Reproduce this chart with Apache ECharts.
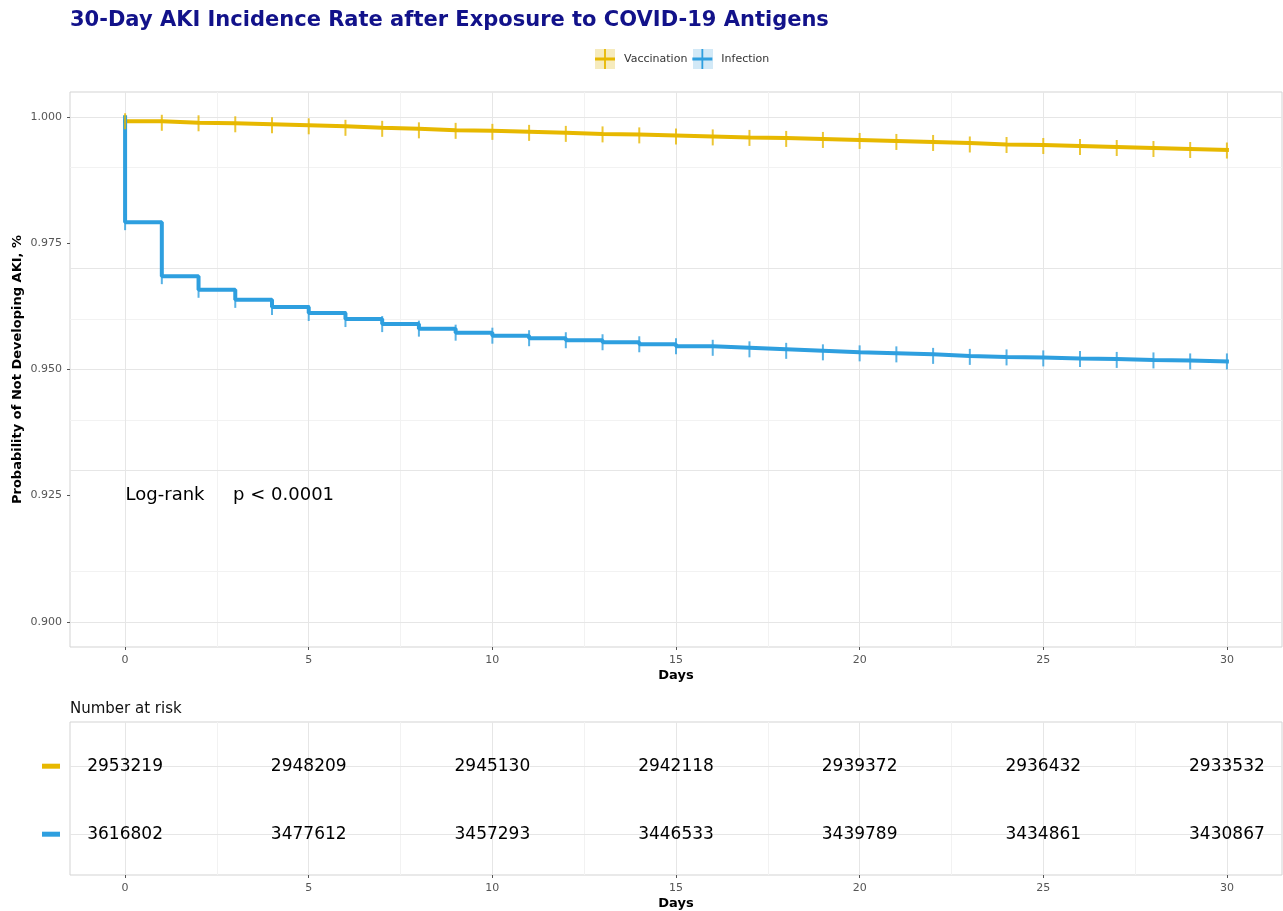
<!DOCTYPE html>
<html>
<head>
<meta charset="utf-8">
<script src="https://cdn.jsdelivr.net/npm/echarts@6/dist/echarts.min.js"></script>
<style>html,body{margin:0;padding:0;background:#fff;}#c{width:1283px;height:911px;}</style>
</head>
<body>
<div id="c"></div>
<script>
// ---- data ----
const days = [0,1,2,3,4,5,6,7,8,9,10,11,12,13,14,15,16,17,18,19,20,21,22,23,24,25,26,27,28,29,30];
const vaccSurv = [0.9992,0.9989,0.9988,0.9986,0.9984,0.9982,0.9979,0.9977,0.9974,0.9973,0.9971,0.9969,0.9967,0.9966,0.9964,0.9962,0.9960,0.9959,0.9957,0.9955,0.9953,0.9951,0.9949,0.9946,0.9945,0.9943,0.9941,0.9939,0.9937,0.9935,0.9934];
const infSurv = [0.9792,0.9685,0.9658,0.9638,0.9624,0.9612,0.9600,0.9590,0.9581,0.9573,0.9567,0.9562,0.9558,0.9554,0.9550,0.9546,0.9543,0.9540,0.9537,0.9534,0.9532,0.9530,0.9527,0.9525,0.9524,0.9522,0.9521,0.9519,0.9518,0.9516,0.9516];
const riskDays = [0,5,10,15,20,25,30];
const riskVacc = [2953219,2948209,2945130,2942118,2939372,2936432,2933532];
const riskInf = [3616802,3477612,3457293,3446533,3439789,3434861,3430867];
const xTicks = [0,5,10,15,20,25,30];
const xMinor = [2.5,7.5,12.5,17.5,22.5,27.5];
const yTicks = [0.900,0.925,0.950,0.975,1.000];
const yMinor = [0.9125,0.9375,0.9625,0.9875];
const seriesNames = ['Vaccination','Infection'];
const colors = ['#E7B800','#2E9FDF'];
const pvalText = 'Log-rank     p < 0.0001';
const pvalPos = [0, 0.925];

const FONT = 'DejaVu Sans';
const vaccLine = days.map((d,i)=>[d,vaccSurv[i]]);
const infLine = [[0,1.0]].concat(days.map((d,i)=>[d,infSurv[i]]));

const gridLines = (xa, ya, xs, ys, color, width) => ({
  type:'line', xAxisIndex:xa, yAxisIndex:ya, data:[], silent:true, z:1,
  markLine:{z:1, silent:true, symbol:['none','none'], label:{show:false}, animation:false,
    lineStyle:{color:color, width:width, type:'solid'},
    data: xs.map(v=>({xAxis:v})).concat(ys.map(v=>({yAxis:v})))}
});

const plusIcon = 'path://M0,8.5 L20,8.5 L20,11.5 L0,11.5 Z M9.1,0 L10.9,0 L10.9,20 L9.1,20 Z';

const xAxisCommon = (gi) => ({type:'value', gridIndex:gi, min:-1.5, max:31.5, name:'Days', nameLocation:'middle', nameGap:22,
     nameMoveOverlap:false,
     nameTextStyle:{fontFamily:FONT, fontSize:13, fontWeight:'bold', color:'#000'},
     axisLine:{show:false, onZero:false}, splitLine:{show:false},
     axisTick:{show:true, length:3, lineStyle:{color:'#555'}, customValues:xTicks},
     axisLabel:{customValues:xTicks, margin:8, fontFamily:FONT, fontSize:11, color:'#555'}});

const numLabel = {show:true, position:'inside', formatter:p=>String(p.value[2]), fontFamily:FONT, fontSize:17,
  color:'#000', opacity:1, textBorderWidth:0};

const chart = echarts.init(document.getElementById('c'), null, {renderer:'canvas'});
chart.setOption({
  animation:false,
  backgroundColor:'#fff',
  textStyle:{fontFamily:FONT},
  title:[
    {text:'30-Day AKI Incidence Rate after Exposure to COVID-19 Antigens', left:65, top:5,
     textStyle:{fontFamily:FONT, fontSize:21, fontWeight:'bold', color:'#12128a'}},
    {text:'Number at risk', left:65, top:697, textStyle:{fontFamily:FONT, fontSize:15, fontWeight:'normal', color:'#111'}}
  ],
  graphic:[
    {type:'rect', left:595, top:49, shape:{width:20,height:20}, style:{fill:'#f6ebbd'}, z:0},
    {type:'rect', left:693, top:49, shape:{width:20,height:20}, style:{fill:'#d2e9f7'}, z:0}
  ],
  legend:{data:seriesNames, left:590, top:44, itemWidth:20, itemHeight:20, itemGap:5, icon:plusIcon, z:5,
    textStyle:{fontFamily:FONT, fontSize:11, color:'#333', padding:[0,0,0,4]}},
  grid:[
    {left:70, right:1, top:92, bottom:264, show:true, borderColor:'#d3d3d3', borderWidth:1, backgroundColor:'#fff', outerBoundsMode:'none', containLabel:false},
    {left:70, right:1, top:722, bottom:36, show:true, borderColor:'#d3d3d3', borderWidth:1, backgroundColor:'#fff', outerBoundsMode:'none', containLabel:false}
  ],
  xAxis:[xAxisCommon(0), xAxisCommon(1)],
  yAxis:[
    {type:'value', gridIndex:0, min:0.895, max:1.005, name:'Probability of Not Developing AKI, %',
     nameLocation:'middle', nameGap:46, nameRotate:90, nameMoveOverlap:false,
     nameTextStyle:{fontFamily:FONT, fontSize:13, fontWeight:'bold', color:'#000'},
     axisLine:{show:false, onZero:false}, splitLine:{show:false},
     axisTick:{show:true, length:3, lineStyle:{color:'#555'}, customValues:yTicks},
     axisLabel:{customValues:yTicks, margin:8, fontFamily:FONT, fontSize:11, color:'#555',
       formatter:v=>Number(v).toFixed(3)}},
    {type:'value', gridIndex:1, min:0.4, max:2.65,
     axisLine:{show:false, onZero:false}, splitLine:{show:false}, axisTick:{show:false},
     axisLabel:{customValues:[1,2], margin:10,
       formatter:v=> v===2 ? '{a|}' : '{b|}',
       rich:{a:{backgroundColor:colors[0], width:18, height:5}, b:{backgroundColor:colors[1], width:18, height:5}}}}
  ],
  series:[
    gridLines(0,0,xMinor,yMinor,'#f2f2f2',1),
    gridLines(0,0,xTicks,yTicks,'#e6e6e6',1),
    gridLines(1,1,xMinor,[],'#f2f2f2',1),
    gridLines(1,1,xTicks,[1,2],'#e6e6e6',1),
    {name:seriesNames[0], type:'line', xAxisIndex:0, yAxisIndex:0, step:'end', data:vaccLine,
     showSymbol:false, symbol:'none', lineStyle:{color:colors[0], width:4, cap:'square'}, itemStyle:{color:colors[0]}, z:3},
    {name:seriesNames[1], type:'line', xAxisIndex:0, yAxisIndex:0, step:'end', data:infLine,
     showSymbol:false, symbol:'none', lineStyle:{color:colors[1], width:4, cap:'square'}, itemStyle:{color:colors[1]}, z:3},
    {name:'vacc-censor', type:'scatter', xAxisIndex:0, yAxisIndex:0, data:days.map((d,i)=>[d,vaccSurv[i]]),
     symbol:'rect', symbolSize:[2,16], itemStyle:{color:colors[0], opacity:0.8}, z:4, silent:true},
    {name:'inf-censor', type:'scatter', xAxisIndex:0, yAxisIndex:0, data:days.map((d,i)=>[d,infSurv[i]]),
     symbol:'rect', symbolSize:[2,16], itemStyle:{color:colors[1], opacity:0.8}, z:4, silent:true},
    {name:'pval', type:'scatter', xAxisIndex:0, yAxisIndex:0, data:[pvalPos], symbolSize:1,
     itemStyle:{color:'rgba(0,0,0,0)'}, silent:true, z:5,
     label:{show:true, position:'right', distance:0, formatter:pvalText,
       fontFamily:FONT, fontSize:18, color:'#000', opacity:1, textBorderWidth:0}},
    {name:'risk-vacc', type:'scatter', xAxisIndex:1, yAxisIndex:1, data:riskDays.map((d,i)=>[d,2,riskVacc[i]]),
     symbolSize:1, itemStyle:{color:'rgba(0,0,0,0)'}, silent:true, z:5, label:numLabel},
    {name:'risk-inf', type:'scatter', xAxisIndex:1, yAxisIndex:1, data:riskDays.map((d,i)=>[d,1,riskInf[i]]),
     symbolSize:1, itemStyle:{color:'rgba(0,0,0,0)'}, silent:true, z:5, label:numLabel}
  ]
});
</script>
</body>
</html>
